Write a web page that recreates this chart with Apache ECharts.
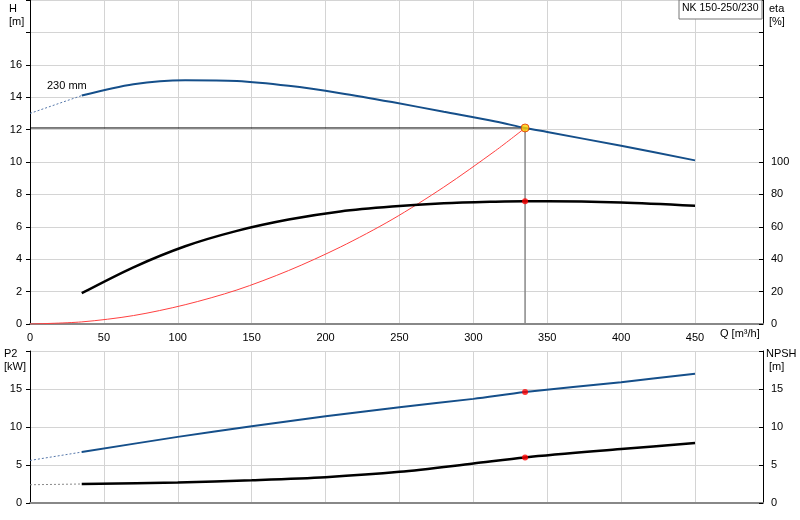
<!DOCTYPE html><html><head><meta charset="utf-8">
<script src="https://cdn.jsdelivr.net/npm/echarts@6/dist/echarts.min.js"></script>
<style>html,body{margin:0;background:#fff}#c{width:800px;height:520px}</style></head><body><div id="c"></div>
<script>
const qH=[35,70,105,140,175,210,245,280,315,335,350,400,450];
const hVals=[14.1,14.8,15.05,15.0,14.7,14.25,13.7,13.1,12.5,12.1,11.85,11.0,10.1];
const hExt=[[0,13.0],[35,14.1]];
const etaVals=[19,35,48,57.5,64.5,69.5,72.5,74.5,75.5,75.8,75.8,75,73];
const qSys=[0,35,70,105,140,175,210,245,280,315,335];
const sysVals=[0,0.13,0.52,1.19,2.1,3.3,4.75,6.45,8.45,10.7,12.1];
const qP=[35,100,150,200,250,300,335,400,450];
const p2Vals=[6.7,8.7,10.1,11.4,12.6,13.7,14.6,15.9,17.0];
const p2Ext=[[0,5.6],[35,6.7]];
const npshVals=[2.5,2.7,3.0,3.4,4.1,5.2,6.0,7.1,7.9];
const npshExt=[[0,2.4],[35,2.5]];
const duty={q:335,h:12.1,eta:75.8,p2:14.6,npsh:6.0};
const zip=(a,b)=>a.map((x,i)=>[x,b[i]]);
const F='Arial, Liberation Sans, sans-serif';
const gl={show:true,lineStyle:{color:'#d4d4d4'}};
const ch=echarts.init(document.getElementById('c'));
const yLab=(mx)=>({fontSize:11,color:'#000',fontFamily:F,formatter:v=>v<=mx?v:''});
const S=0.3;
ch.setOption({animation:false,
grid:[{left:30,right:37,top:0,bottom:196},{left:30,right:37,top:351,bottom:17}],
xAxis:[{gridIndex:0,min:0,max:496,interval:50,axisLine:{lineStyle:{color:'#888',width:2}},axisTick:{show:false},splitLine:gl,axisLabel:{fontSize:11,color:'#000',fontFamily:F,formatter:v=>v<=450?v:''}},
{gridIndex:1,min:0,max:496,interval:50,axisLine:{lineStyle:{color:'#888',width:2}},axisTick:{show:false},splitLine:gl,axisLabel:{show:false}}],
yAxis:[{gridIndex:0,min:0,max:20,interval:2,axisLine:{show:true,lineStyle:{color:'#000'}},axisTick:{show:true,length:4,lineStyle:{color:'#000'}},splitLine:gl,axisLabel:yLab(16)},
{gridIndex:0,position:'right',min:0,max:200,interval:20,axisLine:{show:true,lineStyle:{color:'#000'}},axisTick:{show:true,length:4,inside:true,lineStyle:{color:'#000'}},splitLine:{show:false},axisLabel:yLab(100)},
{gridIndex:1,min:0,max:20,interval:5,axisLine:{show:true,lineStyle:{color:'#000'}},axisTick:{show:true,length:4,lineStyle:{color:'#000'}},splitLine:gl,axisLabel:yLab(15)},
{gridIndex:1,position:'right',min:0,max:20,interval:5,axisLine:{show:true,lineStyle:{color:'#000'}},axisTick:{show:true,length:4,inside:true,lineStyle:{color:'#000'}},splitLine:{show:false},axisLabel:yLab(15)}],
series:[
{type:'line',xAxisIndex:0,yAxisIndex:0,data:[[0,duty.h],[duty.q,duty.h]],symbol:'none',lineStyle:{color:'#000',width:1}},
{type:'line',xAxisIndex:0,yAxisIndex:0,data:[[duty.q,duty.h],[duty.q,0]],symbol:'none',lineStyle:{color:'#888',width:1.5}},
{type:'line',xAxisIndex:0,yAxisIndex:0,data:zip(qSys,sysVals),smooth:S,symbol:'none',lineStyle:{color:'#ff4040',width:1}},
{type:'line',xAxisIndex:0,yAxisIndex:0,data:hExt,symbol:'none',lineStyle:{color:'#5577aa',width:1,type:[2,2]}},
{type:'line',xAxisIndex:0,yAxisIndex:0,data:zip(qH,hVals),smooth:S,symbol:'none',lineStyle:{color:'#154f8a',width:2}},
{type:'line',xAxisIndex:0,yAxisIndex:1,data:zip(qH,etaVals),smooth:S,symbol:'none',lineStyle:{color:'#000',width:2.5}},
{type:'scatter',xAxisIndex:0,yAxisIndex:0,data:[[duty.q,duty.h]],symbolSize:8,itemStyle:{color:'#ffd000',borderColor:'#e03000',borderWidth:1},z:10},
{type:'scatter',xAxisIndex:0,yAxisIndex:1,data:[[duty.q,duty.eta]],symbolSize:6,itemStyle:{color:'#f00'},z:10},
{type:'line',xAxisIndex:1,yAxisIndex:2,data:p2Ext,symbol:'none',lineStyle:{color:'#5577aa',width:1,type:[2,2]}},
{type:'line',xAxisIndex:1,yAxisIndex:2,data:zip(qP,p2Vals),smooth:S,symbol:'none',lineStyle:{color:'#154f8a',width:2}},
{type:'line',xAxisIndex:1,yAxisIndex:3,data:npshExt,symbol:'none',lineStyle:{color:'#888',width:1,type:[2,2]}},
{type:'line',xAxisIndex:1,yAxisIndex:3,data:zip(qP,npshVals),smooth:S,symbol:'none',lineStyle:{color:'#000',width:2.5}},
{type:'scatter',xAxisIndex:1,yAxisIndex:2,data:[[duty.q,duty.p2]],symbolSize:6,itemStyle:{color:'#f00'},z:10},
{type:'scatter',xAxisIndex:1,yAxisIndex:3,data:[[duty.q,duty.npsh]],symbolSize:6,itemStyle:{color:'#f00'},z:10}
],
graphic:[
{type:'text',left:9,top:2,style:{text:'H\n[m]',font:'11px '+F,align:'center',lineHeight:13,fill:'#000'}},
{type:'text',left:769,top:2,style:{text:'eta\n[%]',font:'11px '+F,lineHeight:13,fill:'#000'}},
{type:'text',left:47,top:80,style:{text:'230 mm',font:'11px '+F,fill:'#000'}},
{type:'text',left:720,top:328,style:{text:'Q [m³/h]',font:'11px '+F,fill:'#000'}},
{type:'text',left:4,top:347,style:{text:'P2\n[kW]',font:'11px '+F,lineHeight:13,fill:'#000'}},
{type:'text',left:766,top:347,style:{text:'NPSH\n [m]',font:'11px '+F,lineHeight:13,fill:'#000'}},
{type:'rect',shape:{x:679,y:0,width:83,height:19},style:{fill:'#fff',stroke:'#777',lineWidth:1},z:20},
{type:'text',left:682,top:3,z:21,style:{text:'NK 150-250/230',font:'10.5px '+F,fill:'#000'}}
]});
</script></body></html>
